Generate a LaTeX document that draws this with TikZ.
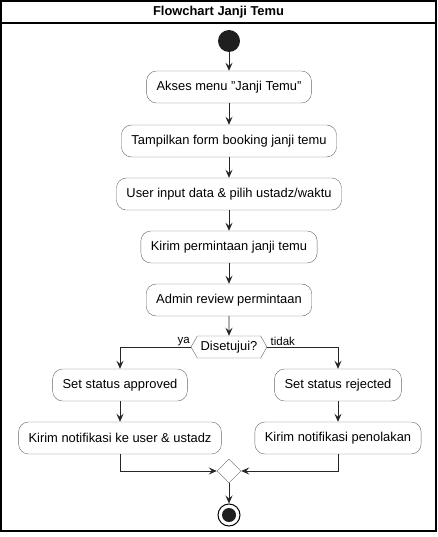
\documentclass[tikz,border=0pt]{standalone}
\usepackage{fontspec}
\setmainfont{Liberation Sans}
\usetikzlibrary{arrows.meta,shapes.geometric,shapes.symbols}

\tikzset{
  act/.style={draw=black!60,rounded corners=10,minimum height=32,inner xsep=10,font=\fontsize{12.9}{14}\selectfont},
  flow/.style={draw=black!85,line width=0.9,-{Stealth[length=8,width=7,inset=3]}}
}

\begin{document}
\begin{tikzpicture}[x=1pt,y=-1pt]
\useasboundingbox (0,0) rectangle (438,537);

\draw[line width=1.2] (1,1) rectangle (436,531);
\draw[line width=1.2] (1,23) -- (436,23);
\node[font=\bfseries\fontsize{12.9}{14}\selectfont] (title) at (218.5,12) {Flowchart Janji Temu};

\node[circle,fill=black!88,minimum size=22,inner sep=0] (0) at (229,41) {};
\node[act] (1) at (229,87) {Akses menu \symbol{34}Janji Temu\symbol{34}};
\node[act] (2) at (229,141) {Tampilkan form booking janji temu};
\node[act] (3) at (229,194) {User input data \& pilih ustadz/waktu};
\node[act] (4) at (229,247) {Kirim permintaan janji temu};
\node[act] (5) at (229,300) {Admin review permintaan};
\node[draw=black!60,shape=signal,signal to=west and east,signal pointer angle=120,minimum width=76,minimum height=22,inner sep=1,font=\fontsize{12.9}{14}\selectfont] (6) at (229,347) {Disetujui?};
\node[act] (7) at (120,385) {Set status approved};
\node[act] (8) at (338,385) {Set status rejected};
\node[act] (9) at (120,438) {Kirim notifikasi ke user \& ustadz};
\node[act] (10) at (338,438) {Kirim notifikasi penolakan};
\node[draw=black!60,diamond,minimum size=24,inner sep=0] (11) at (229,471) {};
\node[circle,draw=black,line width=1,minimum size=22,inner sep=0] (12) at (229,515) {};
\node[circle,fill=black!88,minimum size=14,inner sep=0] at (12) {};

\draw[flow] (0) -- (1);
\draw[flow] (1) -- (2);
\draw[flow] (2) -- (3);
\draw[flow] (3) -- (4);
\draw[flow] (4) -- (5);
\draw[flow] (5) -- (6);
\draw[flow] (6.west) -| node[pos=0.05,above,inner sep=1,font=\fontsize{11.5}{13}\selectfont] {ya} (7.north);
\draw[flow] (6.east) -| node[pos=0.11,above,inner sep=1,font=\fontsize{11.5}{13}\selectfont] {tidak} (8.north);
\draw[flow] (7) -- (9);
\draw[flow] (8) -- (10);
\draw[flow] (9.south) |- (11.west);
\draw[flow] (10.south) |- (11.east);
\draw[flow] (11) -- (12);

\end{tikzpicture}
\end{document}
